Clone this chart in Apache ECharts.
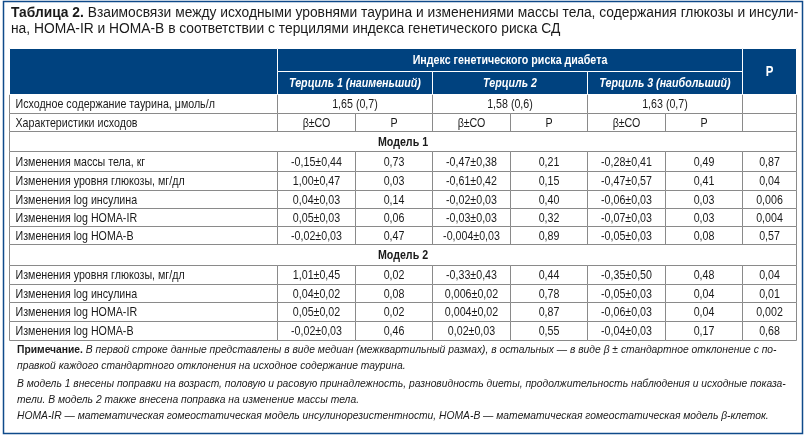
<!DOCTYPE html>
<html><head><meta charset="utf-8">
<script src="https://cdn.jsdelivr.net/npm/echarts@6/dist/echarts.min.js"></script>
<style>html,body{margin:0;padding:0;background:#fff}#c{width:808px;height:438px}</style>
</head><body><div id="c"></div>
<script>
// ---------- DATA ----------
const titleBold = 'Таблица 2.';
const titleText1 = ' Взаимосвязи между исходными уровнями таурина и изменениями массы тела, содержания глюкозы и инсули-';
const titleText2 = 'на, HOMA-IR и HOMA-B в соответствии с терцилями индекса генетического риска СД';
const groupHeader = 'Индекс генетического риска диабета';
const pHeader = 'P';
const tercileHeaders = ['Терциль 1 (наименьший)', 'Терциль 2', 'Терциль 3 (наибольший)'];
const baselineLabel = 'Исходное содержание таурина, μмоль/л';
const baselineTaurine = ['1,65 (0,7)', '1,58 (0,6)', '1,63 (0,7)'];
const charLabel = 'Характеристики исходов';
const subHeaders = ['β±СО', 'Р'];
const model1Title = 'Модель 1';
const model1Labels = ['Изменения массы тела, кг', 'Изменения уровня глюкозы, мг/дл', 'Изменения log инсулина', 'Изменения log HOMA-IR', 'Изменения log HOMA-B'];
const model1T1Beta = ['-0,15±0,44', '1,00±0,47', '0,04±0,03', '0,05±0,03', '-0,02±0,03'];
const model1T1P = ['0,73', '0,03', '0,14', '0,06', '0,47'];
const model1T2Beta = ['-0,47±0,38', '-0,61±0,42', '-0,02±0,03', '-0,03±0,03', '-0,004±0,03'];
const model1T2P = ['0,21', '0,15', '0,40', '0,32', '0,89'];
const model1T3Beta = ['-0,28±0,41', '-0,47±0,57', '-0,06±0,03', '-0,07±0,03', '-0,05±0,03'];
const model1T3P = ['0,49', '0,41', '0,03', '0,03', '0,08'];
const model1PTrend = ['0,87', '0,04', '0,006', '0,004', '0,57'];
const model2Title = 'Модель 2';
const model2Labels = ['Изменения уровня глюкозы, мг/дл', 'Изменения log инсулина', 'Изменения log HOMA-IR', 'Изменения log HOMA-B'];
const model2T1Beta = ['1,01±0,45', '0,04±0,02', '0,05±0,02', '-0,02±0,03'];
const model2T1P = ['0,02', '0,08', '0,02', '0,46'];
const model2T2Beta = ['-0,33±0,43', '0,006±0,02', '0,004±0,02', '0,02±0,03'];
const model2T2P = ['0,44', '0,78', '0,87', '0,55'];
const model2T3Beta = ['-0,35±0,50', '-0,05±0,03', '-0,06±0,03', '-0,04±0,03'];
const model2T3P = ['0,48', '0,04', '0,04', '0,17'];
const model2PTrend = ['0,04', '0,01', '0,002', '0,68'];
const noteBold = 'Примечание.';
const noteLines = [
  ' В первой строке данные представлены в виде медиан (межквартильный размах), в остальных — в виде β ± стандартное отклонение с по-',
  'правкой каждого стандартного отклонения на исходное содержание таурина.',
  'В модель 1 внесены поправки на возраст, половую и расовую принадлежность, разновидность диеты, продолжительность наблюдения и исходные показа-',
  'тели. В модель 2 также внесена поправка на изменение массы тела.',
  'HOMA-IR — математическая гомеостатическая модель инсулинорезистентности, HOMA-B — математическая гомеостатическая модель β-клеток.'
];

// ---------- LAYOUT ----------
const C = [9, 277, 355, 432, 510, 587, 665, 742, 796];
const headerRows = [48, 71, 94];
const rowEdges = [94, 113, 131, 151, 171, 190, 208, 226, 244, 265, 284, 302, 321, 340];
const noteY = [350, 366, 384, 400, 416];
const BLUE = '#00427f';
const GRID = '#8a8a8a';
const SANS = '"Liberation Sans", Arial, Helvetica, sans-serif';
const NARROW_SCALE = 0.82;
const fBody = '13px ' + SANS;
const fBold = 'bold 13px ' + SANS;
const fHead = 'italic bold 13px ' + SANS;
const fNote = 'italic 10.3px ' + SANS;

const cells = [];
function cell(x0, x1, y0, y1, text, opt) {
  opt = opt || {};
  cells.push({x0, x1, y0, y1, text: text || '', align: opt.align || 'center',
    font: opt.font || fBody, fill: opt.fill || '#fff', stroke: opt.stroke || GRID,
    color: opt.color || '#1a1a1a'});
}
const y = i => rowEdges[i];
cell(C[0], C[1], y(0), y(1), baselineLabel, {align: 'left'});
for (let t = 0; t < 3; t++) cell(C[1 + 2 * t], C[3 + 2 * t], y(0), y(1), baselineTaurine[t]);
cell(C[7], C[8], y(0), y(1), '');
cell(C[0], C[1], y(1), y(2), charLabel, {align: 'left'});
for (let t = 0; t < 3; t++) { cell(C[1 + 2 * t], C[2 + 2 * t], y(1), y(2), subHeaders[0]); cell(C[2 + 2 * t], C[3 + 2 * t], y(1), y(2), subHeaders[1]); }
cell(C[7], C[8], y(1), y(2), '');
function block(startRow, title, labels, cols) {
  cell(C[0], C[8], y(startRow), y(startRow + 1), title, {font: fBold});
  labels.forEach((lab, i) => {
    const a = y(startRow + 1 + i), b = y(startRow + 2 + i);
    cell(C[0], C[1], a, b, lab, {align: 'left'});
    cols.forEach((col, j) => cell(C[1 + j], C[2 + j], a, b, col[i]));
  });
}
block(2, model1Title, model1Labels, [model1T1Beta, model1T1P, model1T2Beta, model1T2P, model1T3Beta, model1T3P, model1PTrend]);
block(8, model2Title, model2Labels, [model2T1Beta, model2T1P, model2T2Beta, model2T2P, model2T3Beta, model2T3P, model2PTrend]);
const H = {fill: BLUE, stroke: '#ffffff', color: '#ffffff'};
cell(C[0], C[1], headerRows[0], headerRows[2], '', H);
cell(C[1], C[7], headerRows[0], headerRows[1], groupHeader, Object.assign({font: fBold}, H));
for (let t = 0; t < 3; t++) cell(C[1 + 2 * t], C[3 + 2 * t], headerRows[1], headerRows[2], tercileHeaders[t], Object.assign({font: fHead}, H));
cell(C[7], C[8], headerRows[0], headerRows[2], pHeader, Object.assign({font: 'bold 14px ' + SANS}, H));

const snap = v => Math.round(v) + 0.5;
const noteGraphics = noteLines.map((t, i) => ({
  type: 'text', x: 17, y: noteY[i],
  style: {text: i === 0 ? '{b|' + noteBold + '}{i|' + t + '}' : t, font: fNote, fill: '#1a1a1a', verticalAlign: 'middle',
    rich: {b: {font: 'bold 10.3px ' + SANS, fill: '#1a1a1a'}, i: {font: fNote, fill: '#1a1a1a'}}}
}));
const chart = echarts.init(document.getElementById('c'), null, {renderer: 'canvas'});
chart.setOption({
  animation: false,
  grid: {left: 0, right: 0, top: 0, bottom: 0},
  xAxis: {type: 'value', min: 0, max: 808, show: false},
  yAxis: {type: 'value', min: 0, max: 438, inverse: true, show: false},
  graphic: [
    {type: 'rect', shape: {x: 3.5, y: 1.5, width: 799, height: 432}, style: {fill: 'none', stroke: '#0f4a8a', lineWidth: 1.5}, z: 10},
    {type: 'text', x: 11, y: 13, style: {text: '{b|' + titleBold + '}{r|' + titleText1 + '}', font: '13.8px ' + SANS, fill: '#1a1a1a', verticalAlign: 'middle',
      rich: {b: {font: 'bold 13.8px ' + SANS, fill: '#1a1a1a'}, r: {font: '13.8px ' + SANS, fill: '#1a1a1a'}}}},
    {type: 'text', x: 11, y: 29, style: {text: titleText2, font: '13.8px ' + SANS, fill: '#1a1a1a', verticalAlign: 'middle'}}
  ].concat(noteGraphics),
  series: [{
    type: 'custom',
    coordinateSystem: 'cartesian2d',
    data: cells.map((c, i) => [c.x0, c.y0, c.x1, c.y1, i]),
    renderItem: function (params, api) {
      const c = cells[api.value(4)];
      const p0 = api.coord([api.value(0), api.value(1)]);
      const p1 = api.coord([api.value(2), api.value(3)]);
      const x0 = snap(p0[0]), y0 = snap(p0[1]), x1 = snap(p1[0]), y1 = snap(p1[1]);
      return {type: 'group', children: [
        {type: 'rect', shape: {x: x0, y: y0, width: x1 - x0, height: y1 - y0}, style: {fill: c.fill, stroke: c.stroke, lineWidth: 1}},
        {type: 'text', x: c.align === 'left' ? x0 + 6 : (x0 + x1) / 2, y: (y0 + y1) / 2 + 0.5, scaleX: NARROW_SCALE,
          style: {text: c.text, x: 0, y: 0, align: c.align, verticalAlign: 'middle', font: c.font, fill: c.color}}
      ]};
    }
  }]
});
</script></body></html>
